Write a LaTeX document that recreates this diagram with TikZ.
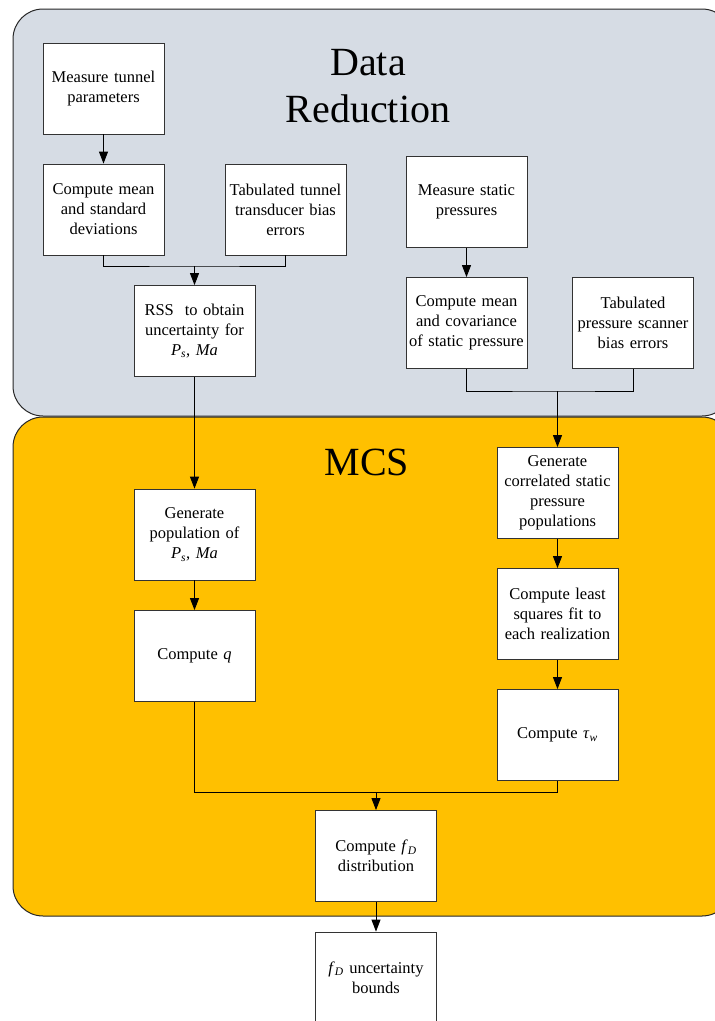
\documentclass[tikz,border=0pt]{standalone}
\usepackage{fontspec}
\setmainfont{Liberation Serif}
\usetikzlibrary{arrows.meta}

\definecolor{panelblue}{HTML}{D6DCE4}
\definecolor{panelgold}{HTML}{FFC000}

\begin{document}
\begin{tikzpicture}[
  x=1pt,y=-1pt,
  stepbox/.style={draw=black!80,line width=0.8pt,fill=white,minimum width=121pt,minimum height=91pt,
    text width=118pt,inner sep=1.5pt,align=center,font=\fontsize{16.5}{20}\selectfont},
  panel/.style={draw=black!85,line width=1pt,rounded corners=30pt},
  title/.style={align=center,font=\fontsize{40}{47}\selectfont},
  flow/.style={-{Triangle[length=12pt,width=9pt]},line width=0.9pt},
  link/.style={line width=0.9pt}
]
  \useasboundingbox (0,0) rectangle (715,1021);
  \clip (0,0) rectangle (715,1021);

  % panels
  \draw[panel,fill=panelblue] (13,9) rectangle (732,416);
  \draw[panel,fill=panelgold] (13,417) rectangle (732,916);
  \node[title,anchor=base] (dr) at (368,122) {Data\\Reduction};
  \node[title,anchor=base] (mcs) at (367,475) {MCS};

  % data reduction
  \node[stepbox] (mtp) at (103.5,88.5) {Measure tunnel\\parameters};
  \node[stepbox] (cmsd) at (103.5,209.5) {Compute mean\\and standard\\deviations};
  \node[stepbox] (ttb) at (285.5,209.5) {Tabulated tunnel\\transducer bias\\errors};
  \node[stepbox] (rss) at (194.5,331) {RSS\ \ to obtain\\uncertainty for\\\textit{P}\textsubscript{\textit{s}}, \textit{Ma}};
  \node[stepbox] (msp) at (466.5,202) {Measure static\\pressures};
  \node[stepbox] (cmcs) at (466.5,323) {Compute mean\\and covariance\\of static pressure};
  \node[stepbox] (tps) at (633,323) {Tabulated\\pressure scanner\\bias errors};

  % MCS
  \node[stepbox] (gpop) at (194.5,534.5) {Generate\\population of\\\textit{P}\textsubscript{\textit{s}}, \textit{Ma}};
  \node[stepbox] (cq) at (194.5,656) {Compute \textit{q}};
  \node[stepbox] (gcsp) at (557.5,493) {Generate\\correlated static\\pressure\\populations};
  \node[stepbox] (clsf) at (557.5,614) {Compute least\\squares fit to\\each realization};
  \node[stepbox] (ctau) at (557.5,735) {Compute \textit{τ}\textsubscript{\textit{w}}};
  \node[stepbox] (cfd) at (376,856) {Compute \textit{f}\textsubscript{\textit{D}}\\distribution};
  \node[stepbox] (fdub) at (376,977.5) {\textit{f}\textsubscript{\textit{D}} uncertainty\\bounds};

  \coordinate (j1) at (194.5,266);
  \coordinate (j2) at (557.5,391);
  \coordinate (j3) at (376,792);

  \draw[flow] (mtp) -- (cmsd);
  \draw[link] (cmsd.south) |- (j1) -| (ttb.south);
  \draw[flow] (j1) -- (rss);
  \draw[flow] (msp) -- (cmcs);
  \draw[link] (cmcs.south) |- (j2) -| (tps.south);
  \draw[flow] (j2) -- (gcsp);
  \draw[flow] (rss) -- (gpop);
  \draw[flow] (gpop) -- (cq);
  \draw[flow] (gcsp) -- (clsf);
  \draw[flow] (clsf) -- (ctau);
  \draw[link] (cq.south) |- (j3) -| (ctau.south);
  \draw[flow] (j3) -- (cfd);
  \draw[flow] (cfd) -- (fdub);
\end{tikzpicture}
\end{document}
